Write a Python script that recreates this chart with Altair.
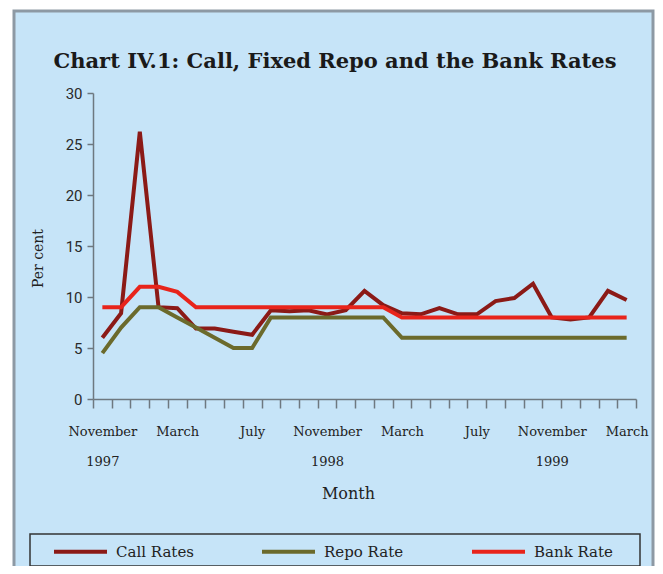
import altair as alt
import pandas as pd

# ---- data ----
months = ["Nov-97", "Dec-97", "Jan-98", "Feb-98", "Mar-98", "Apr-98", "May-98", "Jun-98",
          "Jul-98", "Aug-98", "Sep-98", "Oct-98", "Nov-98", "Dec-98", "Jan-99", "Feb-99",
          "Mar-99", "Apr-99", "May-99", "Jun-99", "Jul-99", "Aug-99", "Sep-99", "Oct-99",
          "Nov-99", "Dec-99", "Jan-00", "Feb-00", "Mar-00"]
call_rates = [6.0, 8.4, 26.2, 9.0, 8.9, 6.9, 6.9, 6.6, 6.3, 8.7, 8.6, 8.7, 8.3, 8.7, 10.6,
              9.2, 8.4, 8.3, 8.9, 8.3, 8.3, 9.6, 9.9, 11.3, 8.0, 7.8, 8.0, 10.6, 9.7]
repo_rate = [4.5, 7, 9, 9, 8, 7, 6, 5, 5, 8, 8, 8, 8, 8, 8, 8,
             6, 6, 6, 6, 6, 6, 6, 6, 6, 6, 6, 6, 6]
bank_rate = [9, 9, 11, 11, 10.5, 9, 9, 9, 9, 9, 9, 9, 9, 9, 9, 9,
             8, 8, 8, 8, 8, 8, 8, 8, 8, 8, 8, 8, 8]
series_names = ["Call Rates", "Repo Rate", "Bank Rate"]
series_colors = ["#8B1A17", "#6B6A2C", "#E8241B"]
tick_months = ["Nov-97", "Mar-98", "Jul-98", "Nov-98", "Mar-99", "Jul-99", "Nov-99", "Mar-00"]
tick_names = ["November", "March", "July", "November", "March", "July", "November", "March"]
tick_years = ["1997", "", "", "1998", "", "", "1999", ""]
y_ticks = [0, 5, 10, 15, 20, 25, 30]
title_text = "Chart IV.1: Call, Fixed Repo and the Bank Rates"

rows = []
for name, vals in zip(series_names, [call_rates, repo_rate, bank_rate]):
    for m, v in zip(months, vals):
        rows.append({"month": m, "series": name, "value": v})
df = pd.DataFrame(rows)

label_expr = "".join(
    f"datum.value == '{k}' ? ['{n}', '{y}'] : " for k, n, y in zip(tick_months, tick_names, tick_years)
) + "''"

W, H = 543, 306
BLUE = "#C6E4F8"
FRAME = "#8D99A4"
AXIS = "#6E7880"
SERIF = "DejaVu Serif"

dummy = pd.DataFrame({"a": [0]})

bg = alt.Chart(dummy).mark_rect(fill=BLUE, stroke=FRAME, strokeWidth=3).encode(
    x=alt.value(-79), x2=alt.value(560), y=alt.value(-82), y2=alt.value(480)
)
legend_box = alt.Chart(dummy).mark_rect(fillOpacity=0, stroke="#333333", strokeWidth=1.5).encode(
    x=alt.value(-63), x2=alt.value(547), y=alt.value(441), y2=alt.value(473)
)
title = alt.Chart(dummy).mark_text(
    text=title_text, font=SERIF, fontSize=21, fontWeight="bold", color="#1A1A1A",
    align="center", baseline="middle"
).encode(x=alt.value(242), y=alt.value(-31))

lines = alt.Chart(df).mark_line(strokeWidth=4).encode(
    x=alt.X("month:N", sort=months,
            scale=alt.Scale(domain=months, paddingInner=0, paddingOuter=0),
            axis=alt.Axis(title="Month", tickBand="extent", labelExpr=label_expr,
                          labelAngle=0, labelOverlap=False, labelBound=False,
                          labelFont=SERIF, labelFontSize=13, labelColor="#222222",
                          labelLineHeight=30, labelBaseline="top", labelPadding=17,
                          tickSize=9, tickColor=AXIS, tickWidth=1.5,
                          domainColor=AXIS, domainWidth=1.5, zindex=1,
                          titleFont=SERIF, titleFontSize=16, titleFontWeight="normal",
                          titleColor="#222222", titleX=255, titleY=94,
                          titleBaseline="middle", titleAlign="center")),
    y=alt.Y("value:Q", scale=alt.Scale(domain=[0, 30], nice=False),
            axis=alt.Axis(title="Per cent", values=y_ticks, grid=False, zindex=1,
                          labelFont="Roboto", labelFontSize=15, labelColor="#2A2A2A",
                          labelPadding=5, tickSize=6, tickColor=AXIS, tickWidth=1.5,
                          domainColor=AXIS, domainWidth=1.5,
                          titleFont=SERIF, titleFontSize=14, titleFontWeight="normal",
                          titleColor="#222222", titleX=-55, titleY=165, titleAngle=270,
                          titleBaseline="middle", titleAlign="center")),
    color=alt.Color("series:N", sort=series_names, title=None,
                    scale=alt.Scale(domain=series_names, range=series_colors),
                    legend=alt.Legend(orient="none", legendX=-41, legendY=430,
                                      direction="horizontal", columns=3, columnPadding=60,
                                      symbolType="stroke", symbolSize=2809,
                                      symbolStrokeWidth=4, labelOffset=7,
                                      labelFont=SERIF, labelFontSize=15,
                                      labelColor="#222222", padding=0, zindex=1)),
    order=alt.value(0),
)

chart = alt.layer(bg, legend_box, title, lines).properties(
    width=W, height=H,
    padding={"left": 85, "top": 85, "right": 19, "bottom": 167},
    autosize=alt.AutoSizeParams(type="none"),
    background="white",
).configure_view(stroke="transparent")

chart.save("out.html", embed_options={"renderer": "svg", "actions": False})
